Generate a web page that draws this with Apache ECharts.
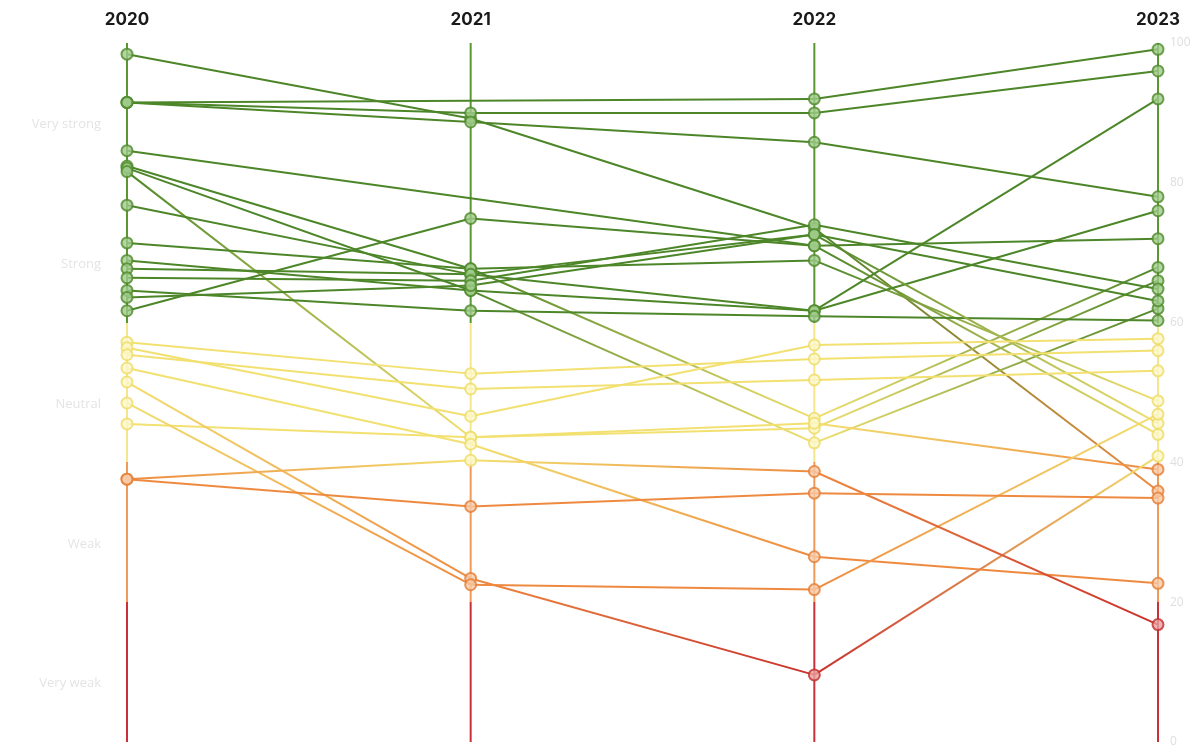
<!DOCTYPE html>
<html><head><meta charset="utf-8">
<script src="https://cdn.jsdelivr.net/npm/echarts@6/dist/echarts.min.js"></script>
<style>html,body{margin:0;padding:0;background:#fff}#c{width:1194px;height:752px}</style>
</head><body><div id="c"></div>
<script>
const years = ['2020', '2021', '2022', '2023'];
const rightTicks = [0, 20, 40, 60, 80, 100];
const bandLabelValues = [10, 30, 50, 70, 90];
const bandLabels = ['Very weak', 'Weak', 'Neutral', 'Strong', 'Very strong'];
const bandEdges = [20, 40, 60];

// values per entity for 2020, 2021, 2022, 2023 (null = missing)
const s01 = [98.4, 89.2, 73.5, 35.9];
const s02 = [91.5, null, 92.0, 99.1];
const s03 = [91.5, 90.0, 90.0, 96.0];
const s04 = [91.5, 88.7, 85.8, 78.0];
const s05 = [84.6, null, 71.0, 44.0];
const s06 = [82.4, 67.7, 46.3, 67.9];
const s07 = [82.1, 64.6, 42.8, 62.0];
const s08 = [81.6, 43.6, 44.9, 66.0];
const s09 = [76.8, 66.9, 72.6, 63.1];
const s10 = [71.4, 67.7, 68.9, 48.8];
const s11 = [68.9, 64.6, 61.7, 92.0];
const s12 = [67.7, 66.9, 61.7, 76.0];
const s13 = [66.4, 66.0, 74.0, 64.8];
const s14 = [64.6, 61.7, 60.9, 60.3];
const s15 = [63.6, 65.3, 72.6, 45.6];
const s16 = [61.7, 74.9, 71.0, 72.0];
const s17 = [57.2, 52.7, 54.8, 56.0];
const s18 = [56.4, 46.6, 56.8, 57.7];
const s19 = [55.4, 50.5, 51.8, 53.1];
const s20 = [45.5, 43.6, 45.6, 39.0];
const s21 = [53.5, 42.6, 26.5, 22.7];
const s22 = [51.5, 23.4, 9.6, 40.9];
const s23 = [48.5, 22.5, 21.8, 46.9];
const s24 = [37.6, 40.3, 38.7, 16.8];
const s25 = [37.6, 33.7, 35.6, 34.9];
const entities = [s01,s02,s03,s04,s05,s06,s07,s08,s09,s10,s11,s12,s13,s14,s15,s16,s17,s18,s19,s20,s21,s22,s23,s24,s25];

const lineCol = ['#c9302c', '#ee8a40', '#f2e070', '#4c8628'];
const axisCol = ['#c9303a', '#f09a55', '#f5e68c', '#5a9632'];
const dotBorder = ['#bf2f2c', '#e57d35', '#eedc66', '#4f8a2b'];
const dotFill = ['#eaa0a0', '#f8c9a6', '#fcf7cc', '#9fcb8a'];
function band(v) { let b = 0; bandEdges.forEach(e => { if (v >= e) b++; }); return b; }

const series = [];
const axisSeriesIdx = [];
years.forEach(y => {
  axisSeriesIdx.push(series.length);
  series.push({ type: 'line', data: [[y, 0], [y, 100]], showSymbol: false, silent: true,
    lineStyle: { width: 2 }, z: 1 });
});
entities.forEach(e => {
  const idx = e.map((v, i) => v == null ? -1 : i).filter(i => i >= 0);
  for (let k = 0; k < idx.length - 1; k++) {
    const a = idx[k], b = idx[k + 1];
    const c1 = lineCol[band(e[a])], c2 = lineCol[band(e[b])];
    series.push({ type: 'line', data: [[years[a], e[a]], [years[b], e[b]]],
      showSymbol: false, silent: true, z: 2,
      lineStyle: { width: 2, color: new echarts.graphic.LinearGradient(0, 0, 1, 0,
        [{ offset: 0, color: c1 }, { offset: 1, color: c2 }]) } });
  }
});
const dots = [];
entities.forEach(e => e.forEach((v, i) => {
  if (v == null) return;
  const b = band(v);
  dots.push({ value: [years[i], v], itemStyle: { color: dotFill[b], borderColor: dotBorder[b], borderWidth: 2 } });
}));
series.push({ type: 'scatter', data: dots, symbolSize: 11, z: 5 });

const chart = echarts.init(document.getElementById('c'));
chart.setOption({
  animation: false,
  backgroundColor: '#fff',
  grid: { left: 127, right: 36, top: 43, bottom: 10 },
  xAxis: { type: 'category', data: years, boundaryGap: false, position: 'top',
    axisLine: { show: false }, axisTick: { show: false }, splitLine: { show: false },
    axisLabel: { margin: 15, fontSize: 17, fontWeight: 'bold', color: '#1a1a1a', fontFamily: 'Inter' } },
  yAxis: [
    { type: 'value', min: 0, max: 100, interval: 10, position: 'left',
      axisLine: { show: false }, axisTick: { show: false }, splitLine: { show: false },
      axisLabel: { margin: 26, fontSize: 13, color: '#e4e4e4', verticalAlign: 'top', padding: [5, 0, 0, 0], fontFamily: 'Open Sans',
        formatter: v => { const k = bandLabelValues.indexOf(v); return k >= 0 ? bandLabels[k] : ''; } } },
    { type: 'value', min: 0, max: 100, interval: 20, position: 'right',
      axisLine: { show: false }, axisTick: { show: false }, splitLine: { show: false },
      axisLabel: { margin: 12, fontSize: 12, color: '#dedede', fontFamily: 'Open Sans',
        formatter: v => rightTicks.indexOf(v) >= 0 ? String(v) : '' } }
  ],
  visualMap: { type: 'piecewise', show: false, dimension: 1, seriesIndex: axisSeriesIdx,
    pieces: [
      { lt: bandEdges[0], color: axisCol[0] },
      { gte: bandEdges[0], lt: bandEdges[1], color: axisCol[1] },
      { gte: bandEdges[1], lt: bandEdges[2], color: axisCol[2] },
      { gte: bandEdges[2], color: axisCol[3] }
    ] },
  series: series
});
</script></body></html>
